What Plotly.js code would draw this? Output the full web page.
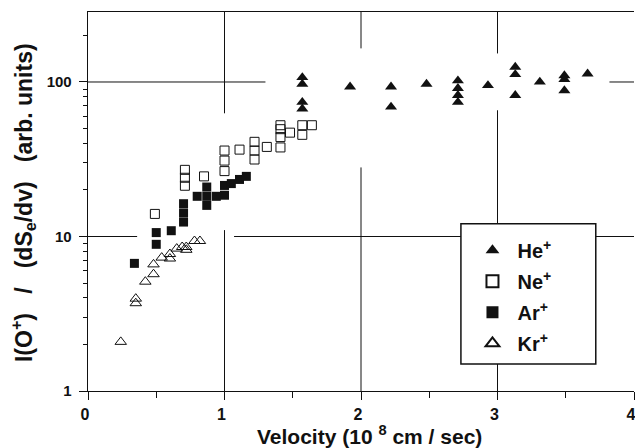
<!DOCTYPE html>
<html>
<head>
<meta charset="utf-8">
<script src="https://cdn.plot.ly/plotly-3.0.1.min.js"></script>
<style>html,body{margin:0;padding:0;background:#fff;}#chart{width:635px;height:448px;}</style>
</head>
<body>
<div id="chart"></div>
<script>
// ---- data ----
const heX = [1.57, 1.57, 1.57, 1.57, 1.92, 2.22, 2.22, 2.48, 2.71, 2.71, 2.71, 2.71, 2.93, 3.13, 3.13, 3.13, 3.31, 3.49, 3.49, 3.49, 3.66];
const heY = [107, 97, 74, 67, 93, 93, 69, 97, 102, 91, 82, 74, 95, 125, 112, 82, 100, 110, 104, 88, 113];

const neX = [0.49, 0.71, 0.71, 0.71, 0.85, 1.00, 1.00, 1.00, 1.11, 1.22, 1.22, 1.22, 1.31, 1.41, 1.41, 1.41, 1.41, 1.48, 1.57, 1.57, 1.64];
const neY = [14, 27, 24, 21.3, 24.5, 36, 31, 26.5, 36.5, 41, 36, 31.5, 38, 52.5, 49.5, 44, 37.7, 47, 52.5, 45.5, 52.5];

const arX = [0.34, 0.50, 0.50, 0.61, 0.70, 0.70, 0.70, 0.80, 0.87, 0.87, 0.87, 0.94, 1.00, 1.00, 1.05, 1.11, 1.16];
const arY = [6.7, 10.6, 8.9, 10.9, 16.3, 14.2, 12.4, 18.2, 20.9, 18.2, 15.9, 18.2, 21.4, 18.5, 22.0, 23.4, 24.5];

const krX = [0.24, 0.35, 0.35, 0.42, 0.48, 0.48, 0.54, 0.60, 0.60, 0.65, 0.69, 0.72, 0.72, 0.78, 0.82];
const krY = [2.08, 3.96, 3.7, 5.1, 5.7, 6.6, 7.3, 7.7, 7.2, 8.35, 8.55, 8.55, 8.2, 9.35, 9.35];

const seriesNames = ['He<sup>+</sup>', 'Ne<sup>+</sup>', 'Ar<sup>+</sup>', 'Kr<sup>+</sup>'];
const xTickVals = [0, 1, 2, 3, 4];
const yTickVals = [1, 10, 100];
const yMinorVals = [2, 3, 4, 5, 6, 7, 8, 9, 20, 30, 40, 50, 60, 70, 80, 90, 200];
const xTitle = 'Velocity (10 <sup>8</sup> cm / sec)';
const yTitle = 'I(O<sup>+</sup>)\u00A0\u00A0 /\u00A0\u00A0 (dS<sub>e</sub>/dv)\u00A0\u00A0 (arb. units)';

// ---- styling ----
const FONT = 'Liberation Sans, Arial, Helvetica, sans-serif';
const INK = '#111';

function tr(x, y, name, symbol, size, lw) {
  return {
    type: 'scatter', mode: 'markers', x: x, y: y, name: name,
    legendgroup: name,
    marker: {symbol: symbol, size: size, color: INK, line: {color: INK, width: lw}},
    cliponaxis: false
  };
}

const traces = [
  tr(heX, heY, seriesNames[0], 'triangle-up', 10.5, 0),
  tr(neX, neY, seriesNames[1], 'square-open', 9, 1),
  tr(arX, arY, seriesNames[2], 'square', 9, 0),
  tr(krX, krY, seriesNames[3], 'triangle-up-open', 10, 1)
];

// broken grid lines, as in the original figure
const gridStyle = {color: INK, width: 1};
function hseg(yv, x0, x1) { return {type: 'line', xref: 'x', yref: 'y', x0: x0, x1: x1, y0: yv, y1: yv, line: gridStyle, layer: 'below'}; }
function vseg(xv, y0, y1) { return {type: 'line', xref: 'x', yref: 'y', x0: xv, x1: xv, y0: y0, y1: y1, line: gridStyle, layer: 'below'}; }
const TOP = Math.pow(10, 2.453);
const shapes = [
  hseg(100, 0, 1.30), hseg(100, 3.82, 4),
  hseg(10, 0, 0.36), hseg(10, 1.07, 4),
  vseg(1, 1, 11.0), vseg(1, 62.7, TOP),
  vseg(2, 1, 28), vseg(2, 165, TOP),
  vseg(3, 1, 65.6), vseg(3, 153, TOP),
  // legend box
  {type: 'rect', xref: 'paper', yref: 'paper', x0: 0.683, x1: 0.930, y0: 0.071, y1: 0.441,
   fillcolor: '#fff', line: {color: INK, width: 1.5}, layer: 'above'}
];

const titleFont = {family: FONT, color: INK, weight: 700};
const annotations = [
  {xref: 'paper', yref: 'paper', x: 0.5147, y: -0.116, xanchor: 'center', yanchor: 'middle',
   text: xTitle, showarrow: false, font: Object.assign({size: 21}, titleFont)},
  {xref: 'paper', yref: 'paper', x: -0.119, y: 0.496, xanchor: 'center', yanchor: 'middle',
   textangle: -90, text: yTitle, showarrow: false, font: Object.assign({size: 23}, titleFont)}
];

const layout = {
  width: 635, height: 448,
  margin: {l: 88, r: 1, t: 12, b: 57},
  paper_bgcolor: '#fff', plot_bgcolor: '#fff',
  font: {family: FONT, color: INK, size: 15, weight: 700},
  showlegend: true,
  legend: {
    x: 0.695, y: 0.4225, xanchor: 'left', yanchor: 'top',
    bgcolor: 'rgba(0,0,0,0)', borderwidth: 0,
    font: {family: FONT, size: 20, color: INK, weight: 700},
    itemsizing: 'constant', tracegroupgap: 2, itemwidth: 40
  },
  xaxis: {
    range: [0, 4], tickvals: xTickVals, ticktext: xTickVals.map(String),
    showgrid: false, zeroline: false,
    showline: true, linecolor: INK, linewidth: 1.3, mirror: true,
    ticks: 'outside', ticklen: 8, tickwidth: 1, tickcolor: INK,
    minor: {dtick: 0.5, tick0: 0, ticks: 'outside', ticklen: 6, tickwidth: 1, tickcolor: INK, showgrid: false},
    tickfont: {family: FONT, size: 16, weight: 700, color: INK},
    ticklabeloverflow: 'allow', ticklabelshift: -3
  },
  yaxis: {
    type: 'log', range: [0, 2.453], tickvals: yTickVals, ticktext: yTickVals.map(String),
    showgrid: false, zeroline: false,
    showline: true, linecolor: INK, linewidth: 1.3,
    ticks: 'outside', ticklen: 8, tickwidth: 1, tickcolor: INK,
    minor: {tickvals: yMinorVals, ticks: 'outside', ticklen: 4, tickwidth: 1, tickcolor: INK, showgrid: false},
    tickfont: {family: FONT, size: 15, weight: 700, color: INK},
    ticklabelstandoff: 4
  },
  annotations: annotations,
  shapes: shapes
};

Plotly.newPlot('chart', traces, layout, {displayModeBar: false, staticPlot: true});
</script>
</body>
</html>
